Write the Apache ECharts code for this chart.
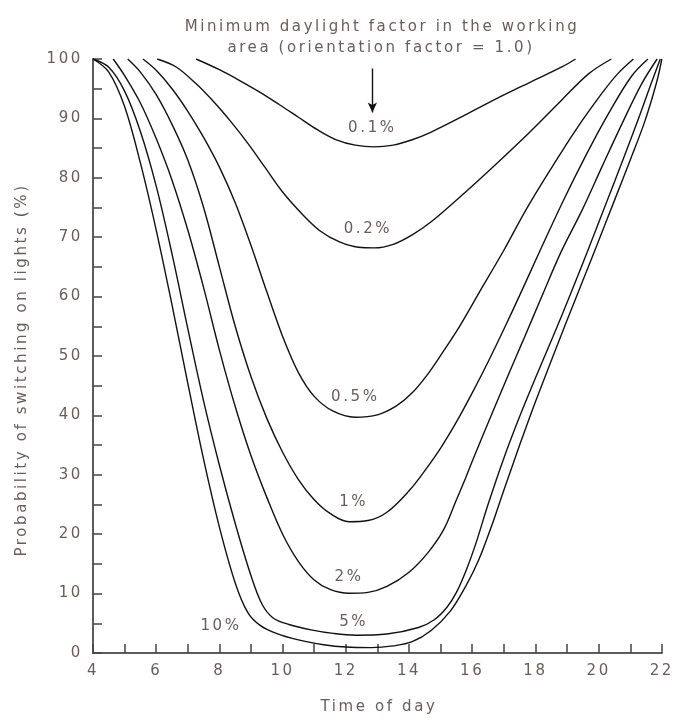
<!DOCTYPE html>
<html>
<head>
<meta charset="utf-8">
<script src="https://cdn.jsdelivr.net/npm/echarts@6/dist/echarts.min.js"></script>
<style>html,body{margin:0;padding:0;background:#fff}#c{width:677px;height:720px}</style>
</head>
<body>
<div id="c"></div>
<script>
// ---- data: time of day (h) vs probability of switching on lights (%) ----
const curveNames = ['0.1%', '0.2%', '0.5%', '1%', '2%', '5%', '10%'];
const c01 = [[7.26,100],[8,98.2],[8.6,96.5],[9.25,94.5],[9.9,92.3],[10.5,90.2],[11.1,88.1],[11.7,86.4],[12.3,85.5],[12.9,85.2],[13.5,85.5],[14.1,86.4],[14.7,87.7],[15.75,90.5],[16.8,93.4],[17.8,96],[18.85,98.7],[19.27,100]];
const c02 = [[6.03,100],[6.62,98.7],[7.25,95.9],[7.87,92.5],[8.4,89.2],[8.9,85.8],[9.45,81.7],[10,77.6],[10.6,74],[11.2,71],[11.8,69.2],[12.4,68.3],[12.9,68.2],[13.5,68.8],[14.1,70.4],[14.7,72.6],[15.7,77.2],[16.75,82.3],[17.8,87.6],[18.85,93.2],[19.68,97.5],[20.4,100]];
const c05 = [[5.58,100],[6,98.1],[6.5,95],[7,91.2],[7.5,86.8],[8,81.8],[8.5,75.8],[9,68.6],[9.5,60.8],[10,53.3],[10.5,47.2],[11,43.2],[11.6,40.7],[12.3,39.7],[13,40.1],[13.6,41.6],[14.1,43.8],[14.6,47],[15.1,50.9],[15.6,55],[16.2,60.5],[17,67.8],[17.7,74.6],[18.5,81.6],[19.27,88],[20.1,94.2],[20.6,97.5],[21.1,100]];
const c1 = [[5.1,100],[5.5,97.8],[6,94],[6.5,89],[7,83],[7.5,75],[8,65],[8.5,55],[9,46.5],[9.5,39.5],[10,33.8],[10.5,29.2],[11,25.8],[11.5,23.5],[12.1,22.1],[12.7,22.3],[13.3,23.7],[14,27.3],[14.5,30.7],[15,34.5],[15.5,38.9],[16,43.8],[16.5,49],[17,54.5],[17.5,60.2],[18.1,67.2],[18.85,75.8],[19.58,83.6],[20.31,90.8],[21.04,97.1],[21.56,100]];
const c2 = [[4.64,100],[5,97.2],[5.5,92.6],[6,86.6],[6.5,79.6],[7,71.2],[7.5,61.5],[8,51],[8.5,41.5],[9,33.2],[9.5,26.2],[10,20],[10.5,15.4],[11,12.3],[11.5,10.7],[12.1,10.05],[12.7,10.2],[13.3,11.2],[14,13.6],[14.6,16.9],[15.1,20.8],[15.5,25.8],[15.8,29.6],[16.1,33.6],[16.6,40],[17.1,46.3],[17.6,52.5],[18.2,60],[18.8,67.4],[19.48,74.6],[20.1,81.8],[20.73,89],[21.36,95.8],[21.85,100]];
const c5 = [[4,100],[4.5,98.6],[5,94.6],[5.5,87.8],[6,78.6],[6.5,67.2],[7,54.6],[7.5,42.4],[8,31.6],[8.5,21.8],[9,13],[9.35,8.2],[9.7,5.9],[10.2,4.8],[10.9,3.9],[11.6,3.3],[12.3,3],[13.3,3.2],[14.3,4.3],[14.8,5.6],[15.2,7.7],[15.5,10.2],[15.8,13.8],[16.1,18.2],[16.5,25],[17,32.8],[17.5,39.8],[18,46.3],[18.55,53.2],[19.1,60.3],[19.63,67.4],[20.2,75.2],[20.73,82.5],[21.25,89.8],[21.67,96],[21.95,100]];
const c10 = [[4,100],[4.5,97.8],[5,92],[5.5,82.5],[6,71.2],[6.5,58.6],[7,45.4],[7.5,32.6],[8,21.2],[8.5,11.8],[8.9,6.8],[9.3,4.6],[9.8,3.3],[10.5,2.2],[11.3,1.4],[12,1.0],[12.8,0.9],[13.5,1.2],[14.1,1.9],[14.7,3.8],[15.3,7],[15.8,11.3],[16.2,15.6],[16.6,21.2],[17,27.4],[17.5,35],[18,42.3],[18.5,49.2],[19,56],[19.5,62.7],[20,69.4],[20.5,76.2],[21,83],[21.46,89.5],[21.83,96],[22,100]];
const curves = [c01, c02, c05, c1, c2, c5, c10];
// curve label positions [time, value, text]
const curveLabels = [[12.84,88.4,'0.1%'],[12.7,71.3,'0.2%'],[12.3,43.1,'0.5%'],[12.25,25.4,'1%'],[12.1,12.8,'2%'],[12.25,5.2,'5%'],[8.05,4.6,'10%']];
const xTicks = [4,6,8,10,12,14,16,18,20,22];
const yTicks = [0,10,20,30,40,50,60,70,80,90,100];
const titleLines = ['Minimum daylight factor in the working', 'area (orientation factor = 1.0)'];
const xTitle = 'Time of day';
const yTitle = 'Probability of switching on lights (%)';

// wide tracking like the original typesetting
(function () {
  const P = CanvasRenderingContext2D.prototype;
  const f = P.fillText, m = P.measureText;
  P.fillText = function () { if ('letterSpacing' in this) this.letterSpacing = '2.6px'; return f.apply(this, arguments); };
  P.measureText = function () { if ('letterSpacing' in this) this.letterSpacing = '2.6px'; return m.apply(this, arguments); };
})();

const txt = '#675e5b';
const font = '"DejaVu Sans", sans-serif';
const fs = 15;
const chart = echarts.init(document.getElementById('c'));
const series = curves.map((d, i) => ({
  name: curveNames[i], type: 'line', data: d, smooth: 0.35, showSymbol: false,
  lineStyle: {color: '#111', width: 1.4}, silent: true, z: 3
}));
series[0].markLine = {
  symbol: ['none', 'arrow'], symbolSize: [7, 10], silent: true, label: {show: false},
  lineStyle: {color: '#111', width: 1.4, type: 'solid'},
  data: [[{coord: [12.84, 98.4]}, {coord: [12.84, 91.0]}]]
};
series.push({
  type: 'scatter', data: curveLabels, symbolSize: 1, itemStyle: {color: 'rgba(0,0,0,0)'}, silent: true, z: 5,
  label: {show: true, position: 'inside', opacity: 1, formatter: p => p.data[2], color: txt, fontSize: fs, fontFamily: font}
});
chart.setOption({
  animation: false,
  grid: {left: 93, right: 10, top: 59, bottom: 67},
  xAxis: {
    type: 'value', min: 4, max: 22, interval: 1,
    axisLine: {lineStyle: {color: '#5c5c5c', width: 2}},
    axisTick: {inside: true, length: 9, lineStyle: {color: '#444', width: 1.5}},
    axisLabel: {color: txt, fontSize: fs, fontFamily: font, margin: 9,
      formatter: v => xTicks.includes(v) ? String(v) : ''},
    splitLine: {show: false}
  },
  yAxis: {
    type: 'value', min: 0, max: 100, interval: 5,
    axisLine: {show: true, lineStyle: {color: '#5c5c5c', width: 2}},
    axisTick: {show: true, inside: true, length: 9, lineStyle: {color: '#444', width: 1.5}},
    axisLabel: {color: txt, fontSize: fs, fontFamily: font, margin: 10,
      formatter: v => yTicks.includes(v) ? String(v) : ''},
    splitLine: {show: false}
  },
  graphic: [
    {type: 'text', x: 382, y: 27, style: {text: titleLines[0], fill: txt, font: fs + 'px ' + font, textAlign: 'center', textVerticalAlign: 'middle'}},
    {type: 'text', x: 381, y: 48, style: {text: titleLines[1], fill: txt, font: fs + 'px ' + font, textAlign: 'center', textVerticalAlign: 'middle'}},
    {type: 'text', x: 379, y: 707, style: {text: xTitle, fill: txt, font: fs + 'px ' + font, textAlign: 'center', textVerticalAlign: 'middle'}},
    {type: 'text', x: 22, y: 370, rotation: Math.PI / 2, style: {text: yTitle, fill: txt, font: fs + 'px ' + font, textAlign: 'center', textVerticalAlign: 'middle'}}
  ],
  series: series
});
</script>
</body>
</html>
